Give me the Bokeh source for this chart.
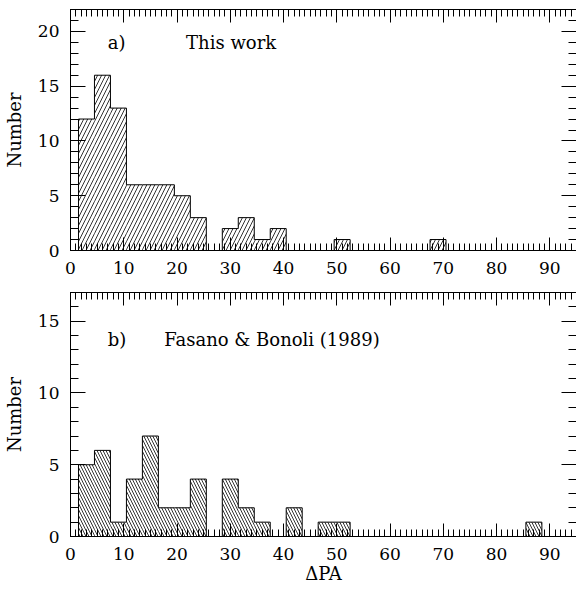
from bokeh.plotting import figure
from bokeh.models import (Range1d, LinearAxis, SingleIntervalTicker, Label,
                          ColumnDataSource, CustomJSTickFormatter)
from bokeh.layouts import column
from bokeh.embed import file_html
from bokeh.resources import INLINE

# ---- data ----
bin_width = 3
bin_centers = [3, 6, 9, 12, 15, 18, 21, 24, 27, 30, 33, 36, 39, 42, 45,
               48, 51, 54, 57, 60, 63, 66, 69, 72, 75, 78, 81, 84, 87]
counts_this_work = [12, 16, 13, 6, 6, 6, 5, 3, 0, 2, 3, 1, 2, 0, 0,
                    0, 1, 0, 0, 0, 0, 0, 1, 0, 0, 0, 0, 0, 0]
counts_fasano = [5, 6, 1, 4, 7, 2, 2, 4, 0, 4, 2, 1, 0, 2, 0,
                 1, 1, 0, 0, 0, 0, 0, 0, 0, 0, 0, 0, 0, 1]
x_ticks_interval = 10
panel_a_label = "a)"
panel_a_title = "This work"
panel_b_label = "b)"
panel_b_title = "Fasano & Bonoli (1989)"
x_label = "ΔPA"
y_label = "Number"

FONT = "DejaVu Serif"


def style_axes(p, ytop_interval):
    xt = SingleIntervalTicker(interval=x_ticks_interval, num_minor_ticks=10)
    yt = SingleIntervalTicker(interval=ytop_interval, num_minor_ticks=5)
    p.xaxis.ticker = xt
    p.yaxis.ticker = yt
    blank = CustomJSTickFormatter(code="return ''")
    p.add_layout(LinearAxis(ticker=xt, formatter=blank), "above")
    p.add_layout(LinearAxis(ticker=yt, formatter=blank), "right")
    for ax in p.xaxis:
        ax.major_tick_in = 13
        ax.major_tick_out = 0
        ax.minor_tick_in = 7
        ax.minor_tick_out = 0
    for ax in p.yaxis:
        ax.major_tick_in = 15
        ax.major_tick_out = 0
        ax.minor_tick_in = 8
        ax.minor_tick_out = 0
    for ax in p.axis:
        ax.axis_line_color = "black"
        ax.major_tick_line_color = "black"
        ax.minor_tick_line_color = "black"
        ax.major_label_text_font = FONT
        ax.major_label_text_font_size = "17px"
        ax.major_label_text_color = "black"
        ax.axis_label_text_font = FONT
        ax.axis_label_text_font_size = "18px"
        ax.axis_label_text_font_style = "normal"
        ax.axis_label_text_color = "black"
    p.above[0].major_label_standoff = 0
    p.right[0].major_label_standoff = 0
    p.below[0].major_label_standoff = 11
    p.left[0].major_label_standoff = 11
    p.left[0].axis_label = y_label
    p.left[0].axis_label_standoff = 10
    p.xgrid.visible = False
    p.ygrid.visible = False
    p.outline_line_color = "black"


def draw_hist(p, counts, pattern, scale):
    lefts = [c - bin_width / 2 for c in bin_centers]
    rights = [c + bin_width / 2 for c in bin_centers]
    nz = [i for i, c in enumerate(counts) if c > 0]
    src = ColumnDataSource(dict(
        left=[lefts[i] for i in nz], right=[rights[i] for i in nz],
        top=[counts[i] for i in nz], bottom=[0] * len(nz)))
    p.quad(left="left", right="right", top="top", bottom="bottom", source=src,
           fill_color=None, line_color=None, hatch_pattern=pattern,
           hatch_color="black", hatch_scale=scale, hatch_weight=0.8)
    xs = [lefts[0]]
    ys = [0]
    for l, r, c in zip(lefts, rights, counts):
        xs += [l, r]
        ys += [c, c]
    xs.append(rights[-1])
    ys.append(0)
    p.line(xs, ys, line_color="black", line_width=1)


# ---- panel a ----
p1 = figure(frame_width=506, frame_height=241, output_backend="svg",
            toolbar_location=None, x_range=Range1d(0, 95), y_range=Range1d(0, 22),
            min_border_left=61, min_border_right=1, min_border_top=9,
            min_border_bottom=41)
style_axes(p1, 5)
draw_hist(p1, counts_this_work, "/", 8)
p1.add_layout(Label(x=7, y=18, text=panel_a_label, text_font=FONT,
                    text_font_size="18px", text_color="black"))
p1.add_layout(Label(x=21.7, y=18, text=panel_a_title, text_font=FONT,
                    text_font_size="18px", text_color="black"))

# ---- panel b ----
p2 = figure(frame_width=506, frame_height=244, output_backend="svg",
            toolbar_location=None, x_range=Range1d(0, 95), y_range=Range1d(0, 17),
            min_border_left=61, min_border_right=1, min_border_top=1,
            min_border_bottom=47)
style_axes(p2, 5)
p2.below[0].axis_label = x_label
p2.below[0].axis_label_standoff = 0
draw_hist(p2, counts_fasano, "\\", 6)
p2.add_layout(Label(x=7, y=13, text=panel_b_label, text_font=FONT,
                    text_font_size="18px", text_color="black"))
p2.add_layout(Label(x=17.6, y=13, text=panel_b_title, text_font=FONT,
                    text_font_size="18px", text_color="black"))

layout = column(p1, p2, spacing=0)
open("out.html", "w").write(file_html(layout, INLINE))
